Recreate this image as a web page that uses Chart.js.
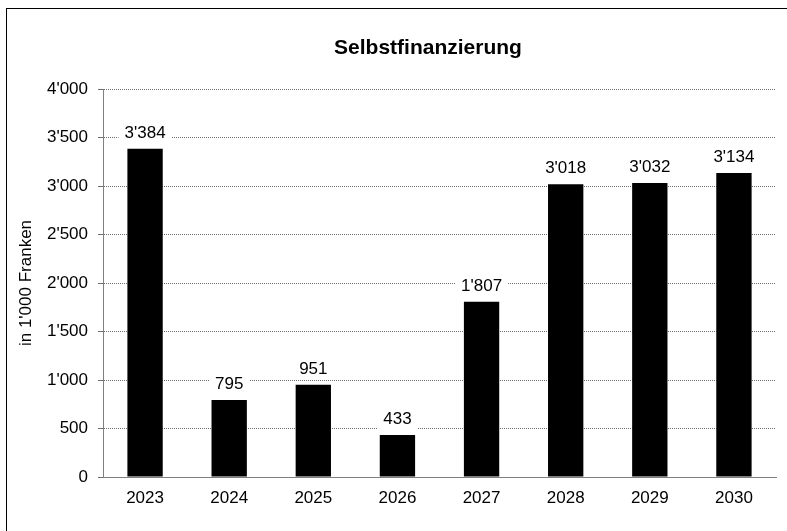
<!DOCTYPE html>
<html>
<head>
<meta charset="utf-8">
<script src="https://cdn.jsdelivr.net/npm/chart.js@4"></script>
<style>
  html, body { margin: 0; padding: 0; background: #fff; }
  #rahmen { position: absolute; left: 6px; top: 8px; width: 800px; height: 540px; border: 1px solid #000; box-sizing: border-box; }
  #wrap { position: absolute; left: 0; top: 0; width: 787px; height: 531px; }
</style>
</head>
<body>
<div id="rahmen"></div>
<div id="wrap"><canvas id="grafik" width="787" height="531"></canvas></div>
<script>
// Daten
const jahre = ["2023", "2024", "2025", "2026", "2027", "2028", "2029", "2030"];
const selbstfinanzierung = [3384, 795, 951, 433, 1807, 3018, 3032, 3134];
const titel = "Selbstfinanzierung";
const achsenTitel = "in 1'000 Franken";

const SCHRIFT = "Liberation Sans, Arial, sans-serif";

// 3384 -> 3'384
function fmt(v) {
  return String(Math.round(v)).replace(/\B(?=(\d{3})+(?!\d))/g, "'");
}

// Titel über dem Diagramm
const titelPlugin = {
  id: "titel",
  afterDraw(chart) {
    const ctx = chart.ctx;
    ctx.save();
    ctx.font = "bold 21px " + SCHRIFT;
    ctx.fillStyle = "#000";
    ctx.textAlign = "center";
    ctx.textBaseline = "alphabetic";
    ctx.fillText(titel, 428, 54);
    ctx.restore();
  }
};

// Werte über den Balken, mit weissem Hintergrund
const wertePlugin = {
  id: "werte",
  afterDatasetsDraw(chart) {
    const ctx = chart.ctx;
    const meta = chart.getDatasetMeta(0);
    ctx.save();
    ctx.font = "17px " + SCHRIFT;
    ctx.textAlign = "center";
    ctx.textBaseline = "alphabetic";
    meta.data.forEach((bar, i) => {
      const txt = fmt(selbstfinanzierung[i]);
      const w = ctx.measureText(txt).width;
      const base = bar.y - 11;
      ctx.fillStyle = "#fff";
      ctx.fillRect(bar.x - w / 2 - 6, base - 15, w + 12, 20);
      ctx.fillStyle = "#000";
      ctx.fillText(txt, bar.x, base);
    });
    ctx.restore();
  }
};

new Chart(document.getElementById("grafik"), {
  type: "bar",
  data: {
    labels: jahre,
    datasets: [{
      data: selbstfinanzierung,
      backgroundColor: "#000",
      borderWidth: 0,
      barPercentage: 0.42,
      categoryPercentage: 1.0
    }]
  },
  options: {
    responsive: false,
    animation: false,
    devicePixelRatio: 1,
    layout: { padding: { left: 0, top: 89, right: 11, bottom: 0 } },
    plugins: { legend: { display: false }, tooltip: { enabled: false } },
    scales: {
      x: {
        afterFit: s => { s.height = 54; },
        grid: { display: false, drawTicks: false },
        border: { color: "#808080", width: 1 },
        ticks: { color: "#000", font: { family: SCHRIFT, size: 17 }, padding: 11 }
      },
      y: {
        min: 0,
        max: 4000,
        afterFit: s => { s.width = 103; },
        ticks: {
          stepSize: 500,
          color: "#000",
          font: { family: SCHRIFT, size: 17 },
          padding: 10,
          callback: v => fmt(v)
        },
        grid: {
          color: "#6e6e6e",
          tickLength: 5,
          tickColor: "#6e6e6e",
          lineWidth: 1
        },
        border: { color: "#808080", width: 1, display: true, dash: [1, 1] },
        title: {
          display: true,
          text: achsenTitel,
          color: "#000",
          font: { family: SCHRIFT, size: 17 },
          padding: { top: 16, bottom: 0 }
        }
      }
    }
  },
  plugins: [titelPlugin, wertePlugin]
});
</script>
</body>
</html>
